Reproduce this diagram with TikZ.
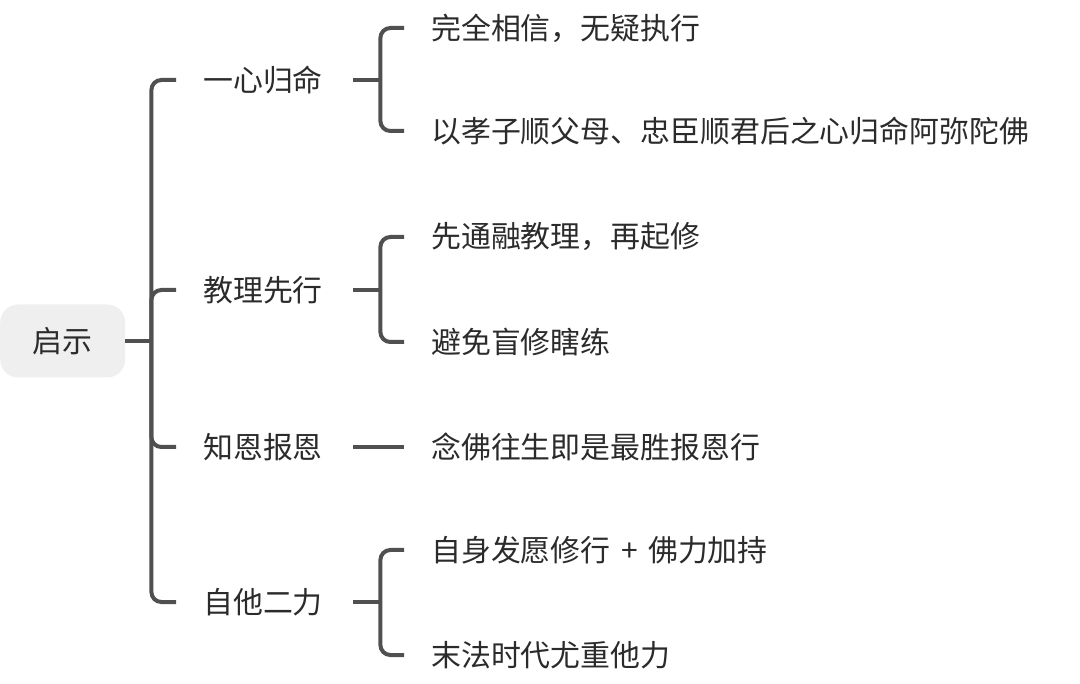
\documentclass[tikz,border=0pt]{standalone}
\usepackage{fontspec}
\setmainfont{Noto Sans CJK SC}
\usetikzlibrary{positioning}

\definecolor{linegray}{HTML}{505050}
\definecolor{textgray}{HTML}{2B2B2B}
\definecolor{rootfill}{HTML}{EFEFEF}

\begin{document}
\begin{tikzpicture}[
        x = 1pt, y = -1pt, % pixel grid, y going down
        every node/.style = {font = \fontsize{29.9}{35}\selectfont, text = textgray},
        link/.style = {draw = linegray, line width = 4pt, rounded corners = 10pt},
        topic/.style = {anchor = west, text width = 123pt, inner xsep = 27pt, inner ysep = 0pt},
        leaf/.style = {anchor = west, inner xsep = 27pt, inner ysep = 0pt}
    ]
    \useasboundingbox (0,0) rectangle (1080,684);

    % root
    \node[fill = rootfill, rounded corners = 18pt, anchor = west,
          minimum width = 125pt, minimum height = 73pt] (root) at (0,341) {启示};
    \coordinate (hub) at ([xshift=26pt]root.east);

    % first level
    \node[topic] (t1) at (176,80)  {一心归命};
    \node[topic] (t2) at (176,290) {教理先行};
    \node[topic] (t3) at (176,447) {知恩报恩};
    \node[topic] (t4) at (176,602) {自他二力};

    % second level
    \node[leaf] (c11) at (404,28)  {完全相信，无疑执行};
    \node[leaf] (c12) at (404,131) {以孝子顺父母、忠臣顺君后之心归命阿弥陀佛};
    \node[leaf] (c21) at (404,237) {先通融教理，再起修};
    \node[leaf] (c22) at (404,342) {避免盲修瞎练};
    \node[leaf] (c31) at (404,447) {念佛往生即是最胜报恩行};
    \node[leaf] (c41) at (404,550) {自身发愿修行\hspace{0.35em}+\hspace{0.35em}佛力加持};
    \node[leaf] (c42) at (404,655) {末法时代尤重他力};

    % trunk
    \draw[link] (root.east) -- (hub);
    \draw[link] (hub) |- (t1.west);
    \draw[link] (hub) |- (t2.west);
    \draw[link] (hub) |- (t3.west);
    \draw[link] (hub) |- (t4.west);

    % brackets
    \coordinate (b1) at ([xshift=27pt]t1.east);
    \coordinate (b2) at ([xshift=27pt]t2.east);
    \coordinate (b4) at ([xshift=27pt]t4.east);

    \draw[link] (t1.east) -- (b1);
    \draw[link] (b1) |- (c11.west);
    \draw[link] (b1) |- (c12.west);

    \draw[link] (t2.east) -- (b2);
    \draw[link] (b2) |- (c21.west);
    \draw[link] (b2) |- (c22.west);

    \draw[link] (t3.east) -- (c31.west);

    \draw[link] (t4.east) -- (b4);
    \draw[link] (b4) |- (c41.west);
    \draw[link] (b4) |- (c42.west);
\end{tikzpicture}
\end{document}
